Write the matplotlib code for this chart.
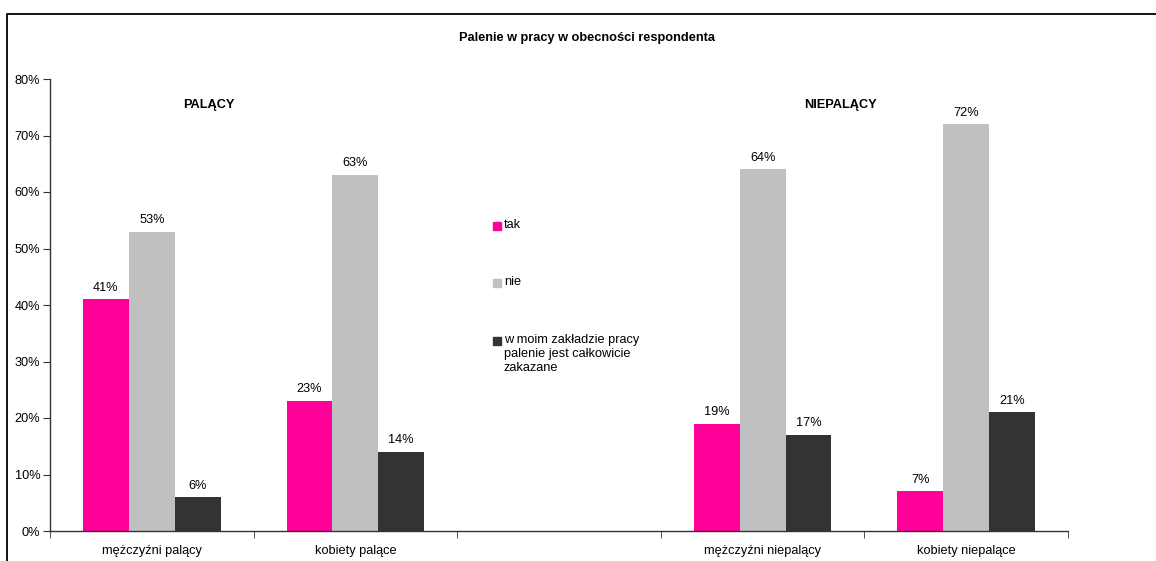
import numpy as np
import matplotlib.pyplot as plt
from matplotlib.patches import Rectangle
from matplotlib.lines import Line2D

plt.rcParams['font.family'] = ['Liberation Sans', 'DejaVu Sans']

categories = ['mężczyźni palący', 'kobiety palące', '', 'mężczyźni niepalący', 'kobiety niepalące']
series = ['tak', 'nie', 'w moim zakładzie pracy\npalenie jest całkowicie\nzakazane']
tak = [41, 23, np.nan, 19, 7]
nie = [53, 63, np.nan, 64, 72]
zakaz = [6, 14, np.nan, 17, 21]
colors = ['#FF0099', '#C0C0C0', '#333333']

W, H = 1156, 561
fs = 9.2
fig = plt.figure(figsize=(W / 100, H / 100), dpi=100)
ax = fig.add_axes([50 / W, 30 / H, (1068 - 50) / W, (531 - 79) / H])

x = np.arange(len(categories))
bw = 0.225
for i, (vals, c) in enumerate(zip([tak, nie, zakaz], colors)):
    pos = x + (i - 1) * bw
    ax.bar(pos, vals, width=bw, color=c, zorder=2)
    for p, v in zip(pos, vals):
        if not np.isnan(v):
            ax.annotate(f'{v:.0f}%', (p, v), xytext=(0, 4), textcoords='offset points',
                        ha='center', va='bottom', fontsize=fs)

ax.set_xlim(-0.5, len(categories) - 0.5)
ax.set_ylim(0, 80)
ax.set_yticks(range(0, 81, 10))
ax.set_yticklabels([f'{v}%' for v in range(0, 81, 10)])
ax.set_xticks(x)
ax.set_xticklabels(categories)
ax.set_xticks(np.arange(len(categories) + 1) - 0.5, minor=True)
ax.tick_params(axis='x', which='major', length=0, pad=10, labelsize=fs)
ax.tick_params(axis='x', which='minor', length=5, direction='out', color='#333333')
ax.tick_params(axis='y', length=5, direction='out', pad=2, labelsize=fs, color='#333333')
for s in ['top', 'right']:
    ax.spines[s].set_visible(False)
for s in ['left', 'bottom']:
    ax.spines[s].set_color('#333333')
    ax.spines[s].set_linewidth(1.0)

ax.text(0.28, 75.4, 'PALĄCY', fontsize=fs, fontweight='bold', ha='center', va='center')
ax.text(3.38, 75.4, 'NIEPALĄCY', fontsize=fs, fontweight='bold', ha='center', va='center')

fig.text(587 / W, 1 - 38 / H, 'Palenie w pracy w obecności respondenta',
         fontsize=fs, fontweight='bold', ha='center', va='center')

# legend in the empty slot
leg_y = [226, 283, 341]
for lbl, c, yy in zip(series, colors, leg_y):
    fig.add_artist(Rectangle((493 / W, 1 - (yy + 4) / H), 8 / W, 8 / H,
                             transform=fig.transFigure, color=c))
    fig.text(504 / W, 1 - (yy - 7) / H, lbl, fontsize=fs, ha='left', va='top',
             linespacing=1.2)

# outer frame (top and left edges visible)
fig.add_artist(Line2D([7 / W, 7 / W, 1.01], [-0.01, 1 - 14 / H, 1 - 14 / H],
                      transform=fig.transFigure, color='black', lw=1.3))

fig.savefig('out.png', dpi=100)
